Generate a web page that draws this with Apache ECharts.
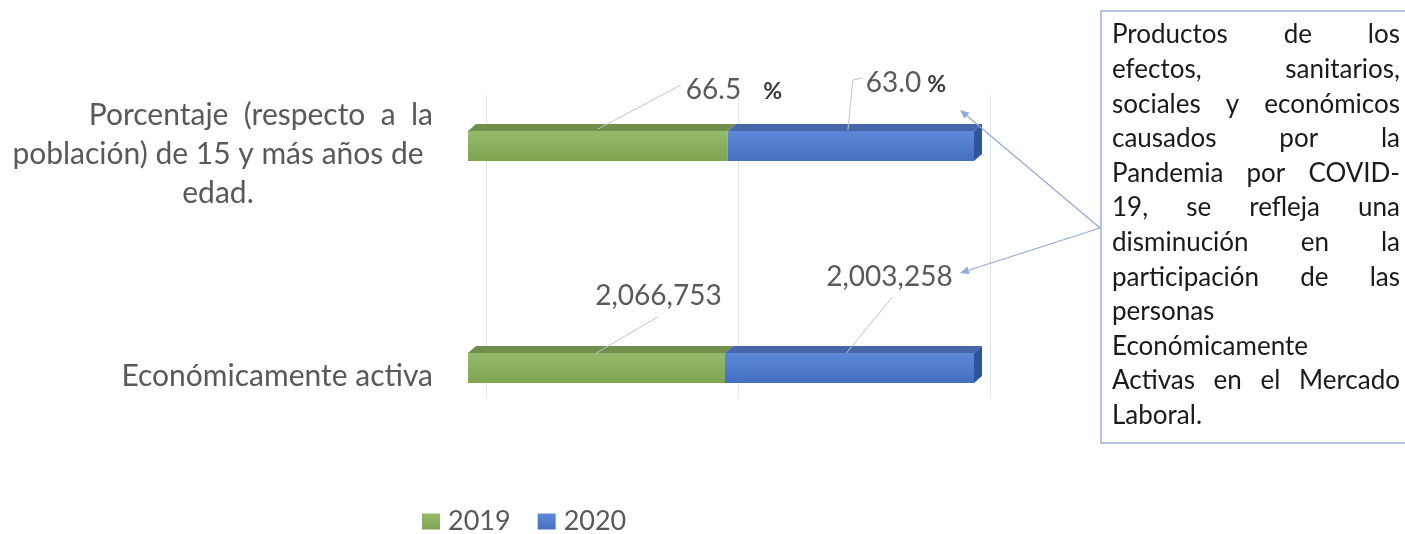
<!DOCTYPE html>
<html>
<head>
<meta charset="utf-8">
<script src="https://cdn.jsdelivr.net/npm/echarts@6/dist/echarts.min.js"></script>
<style>
  html, body { margin: 0; padding: 0; background: #fff; }
  #main { width: 1405px; height: 534px; }
</style>
</head>
<body>
<div id="main"></div>
<script>
// categories (top to bottom)
const categories = [
    'Porcentaje  (respecto  a  la\npoblación) de 15 y más años de\nedad.',
    'Económicamente activa'
];
const years = ['2019', '2020'];
// values per category
const values2019 = [66.5, 2066753];
const values2020 = [63.0, 2003258];

// note box text, one array per line
const noteLines = [
    ['Productos', 'de', 'los'],
    ['efectos,', 'sanitarios,'],
    ['sociales', 'y', 'económicos'],
    ['causados', 'por', 'la'],
    ['Pandemia', 'por', 'COVID-'],
    ['19,', 'se', 'refleja', 'una'],
    ['disminución', 'en', 'la'],
    ['participación', 'de', 'las'],
    ['personas'],
    ['Económicamente'],
    ['Activas', 'en', 'el', 'Mercado'],
    ['Laboral.']
];

const FONT = 'Lato';
const GREY = '#595959';

// each bar is shown as share of the category total
function shares(a, b) {
    return a.map(function (v, i) { return v / (v + b[i]) * 100; });
}
const share2019 = shares(values2019, values2020);
const share2020 = shares(values2020, values2019);

function fmtValue(cat, v) {
    if (cat === 0) return v.toFixed(1);
    return v.toLocaleString('en-US');
}

// label offsets from the middle of each segment [series][category]
const labelShift = [
    [[136, -56], [62, -72]],
    [[55, -63], [40, -91]]
];
// leader lines, relative to the top of the segment middle
const leaders = [
    [[[0, 0], [83, -44]], [[0, 2], [61, -34]]],
    [[[-3, 1], [2, -49], [12, -51]], [[-3, 2], [43, -54]]]
];

const BAR_H = 30;
const DEPTH_X = 8;
const DEPTH_Y = -7;

function renderDepth(params, api) {
    const cat = api.value(1);
    const p0 = api.coord([0, cat]);
    const p1 = api.coord([share2019[cat], cat]);
    const p2 = api.coord([100, cat]);
    const yt = p0[1] - BAR_H / 2;
    const yb = p0[1] + BAR_H / 2;
    function top(xa, xb, color) {
        return {
            type: 'polygon',
            shape: { points: [[xa, yt], [xb, yt], [xb + DEPTH_X, yt + DEPTH_Y], [xa + DEPTH_X, yt + DEPTH_Y]] },
            style: { fill: color }
        };
    }
    function leader(s, cx) {
        return {
            type: 'polyline',
            shape: { points: leaders[s][cat].map(function (p) { return [cx + p[0], yt - 2 + p[1]]; }) },
            style: { stroke: '#c4c4c4', lineWidth: 1, fill: null },
            z2: 5
        };
    }
    return {
        type: 'group',
        children: [
            top(p0[0], p1[0], '#718f4c'),
            top(p1[0], p2[0], '#4766a8'),
            {
                type: 'polygon',
                shape: { points: [[p2[0], yt], [p2[0] + DEPTH_X, yt + DEPTH_Y], [p2[0] + DEPTH_X, yb + DEPTH_Y], [p2[0], yb]] },
                style: { fill: '#2f559c' }
            },
            leader(0, (p0[0] + p1[0]) / 2),
            leader(1, (p1[0] + p2[0]) / 2)
        ]
    };
}

function barSeries(idx, shareArr, rawArr, colTop, colBottom) {
    return {
        name: years[idx],
        type: 'bar',
        stack: 'total',
        barWidth: BAR_H,
        xAxisIndex: 0,
        yAxisIndex: 0,
        itemStyle: {
            color: new echarts.graphic.LinearGradient(0, 0, 0, 1, [
                { offset: 0, color: colTop },
                { offset: 1, color: colBottom }
            ])
        },
        data: shareArr.map(function (s, i) { return { value: s, raw: rawArr[i] }; }),
        label: {
            show: true,
            position: 'inside',
            formatter: function (p) {
                const txt = fmtValue(p.dataIndex, p.data.raw);
                if (p.dataIndex === 0) {
                    return '{v|' + txt + '}' + (idx === 0 ? '{g|}' : '') + '{p|%}';
                }
                return '{v|' + txt + '}';
            },
            rich: {
                v: { fontFamily: FONT, fontSize: 28, color: GREY },
                g: { width: 16 },
                p: { fontFamily: FONT, fontSize: 23, fontWeight: 'bold', color: '#3a3a3a', padding: [4, 0, 0, 6] }
            }
        },
        labelLayout: function (p) {
            const s = labelShift[idx][p.dataIndex];
            return { dx: s[0], dy: s[1] };
        }
    };
}

function buildNote() {
    const ctx = document.createElement('canvas').getContext('2d');
    const size = 26;
    ctx.font = size + 'px ' + FONT;
    const left = 1112, right = 1400, top0 = 35, lineH = 34.6;
    const els = [{
        type: 'rect',
        shape: { x: 1101, y: 11, width: 330, height: 432 },
        style: { fill: '#fff', stroke: '#9bb2dd', lineWidth: 1.5 },
        z: 10
    }];
    noteLines.forEach(function (words, li) {
        const y = top0 + li * lineH;
        const widths = words.map(function (w) { return ctx.measureText(w).width; });
        const sum = widths.reduce(function (a, b) { return a + b; }, 0);
        const gap = words.length > 1 ? (right - left - sum) / (words.length - 1) : 0;
        let x = left;
        words.forEach(function (w, wi) {
            els.push({
                type: 'text',
                x: x, y: y,
                style: { text: w, font: size + 'px ' + FONT, fill: '#1a1a1a', textVerticalAlign: 'middle' },
                z: 11
            });
            x += widths[wi] + gap;
        });
    });
    // arrows from the box to the labels
    const origin = [1100, 228];
    const tips = [[960, 110], [960, 273]];
    tips.forEach(function (t) {
        const ang = Math.atan2(t[1] - origin[1], t[0] - origin[0]);
        const len = 9, wid = 4;
        const bx = t[0] - Math.cos(ang) * len, by = t[1] - Math.sin(ang) * len;
        const nx = -Math.sin(ang) * wid, ny = Math.cos(ang) * wid;
        els.push({
            type: 'line',
            shape: { x1: origin[0], y1: origin[1], x2: bx, y2: by },
            style: { stroke: '#8ea9db', lineWidth: 1.2 },
            z: 9
        });
        els.push({
            type: 'polygon',
            shape: { points: [t, [bx + nx, by + ny], [bx - nx, by - ny]] },
            style: { fill: '#8ea9db' },
            z: 9
        });
    });
    return els;
}

function displayChart() {
    const chartDom = document.getElementById('main');
    const myChart = echarts.init(chartDom);
    const option = {
        backgroundColor: '#fff',
        animation: false,
        textStyle: { fontFamily: FONT },
        legend: {
            data: years,
            left: 417,
            top: 503,
            icon: 'rect',
            itemWidth: 18,
            itemHeight: 16,
            itemGap: 27,
            textStyle: { fontFamily: FONT, fontSize: 27, color: GREY, padding: [0, 0, 0, 3] }
        },
        grid: [
            { left: 467, right: 431, top: 35, bottom: 55 },
            { left: 486, right: 415, top: 95, bottom: 136 }
        ],
        xAxis: [
            { type: 'value', gridIndex: 0, min: 0, max: 100, show: false, splitLine: { show: false } },
            {
                type: 'value', gridIndex: 1, min: 0, max: 100, interval: 50,
                axisLabel: { show: false }, axisLine: { show: false }, axisTick: { show: false },
                splitLine: { show: true, lineStyle: { color: '#e6e6e6', width: 1 } }
            }
        ],
        yAxis: [
            {
                type: 'category', gridIndex: 0, inverse: true, data: categories,
                axisLine: { show: false }, axisTick: { show: false },
                axisLabel: {
                    margin: 35,
                    padding: [16, 0, 0, 0],
                    formatter: function (value, idx) {
                        return value.split('\n').map(function (l, li) {
                            const key = (idx === 0 && li > 0) ? 'c' : 'r';
                            return '{' + key + '|' + l + '}';
                        }).join('\n');
                    },
                    rich: {
                        c: { fontFamily: FONT, fontSize: 30, color: GREY, width: 430, align: 'center', lineHeight: 39 },
                        r: { fontFamily: FONT, fontSize: 30, color: GREY, width: 430, align: 'right', lineHeight: 39 }
                    }
                }
            },
            { type: 'category', gridIndex: 1, data: categories, show: false }
        ],
        series: [
            barSeries(0, share2019, values2019, '#95ba6b', '#7fa552'),
            barSeries(1, share2020, values2020, '#5e89d8', '#4470c2'),
            {
                type: 'custom',
                xAxisIndex: 0,
                yAxisIndex: 0,
                renderItem: renderDepth,
                encode: { x: 0, y: 1 },
                data: categories.map(function (c, i) { return [100, i]; }),
                silent: true
            }
        ],
        graphic: buildNote()
    };
    myChart.setOption(option);
}
displayChart();
</script>
</body>
</html>
